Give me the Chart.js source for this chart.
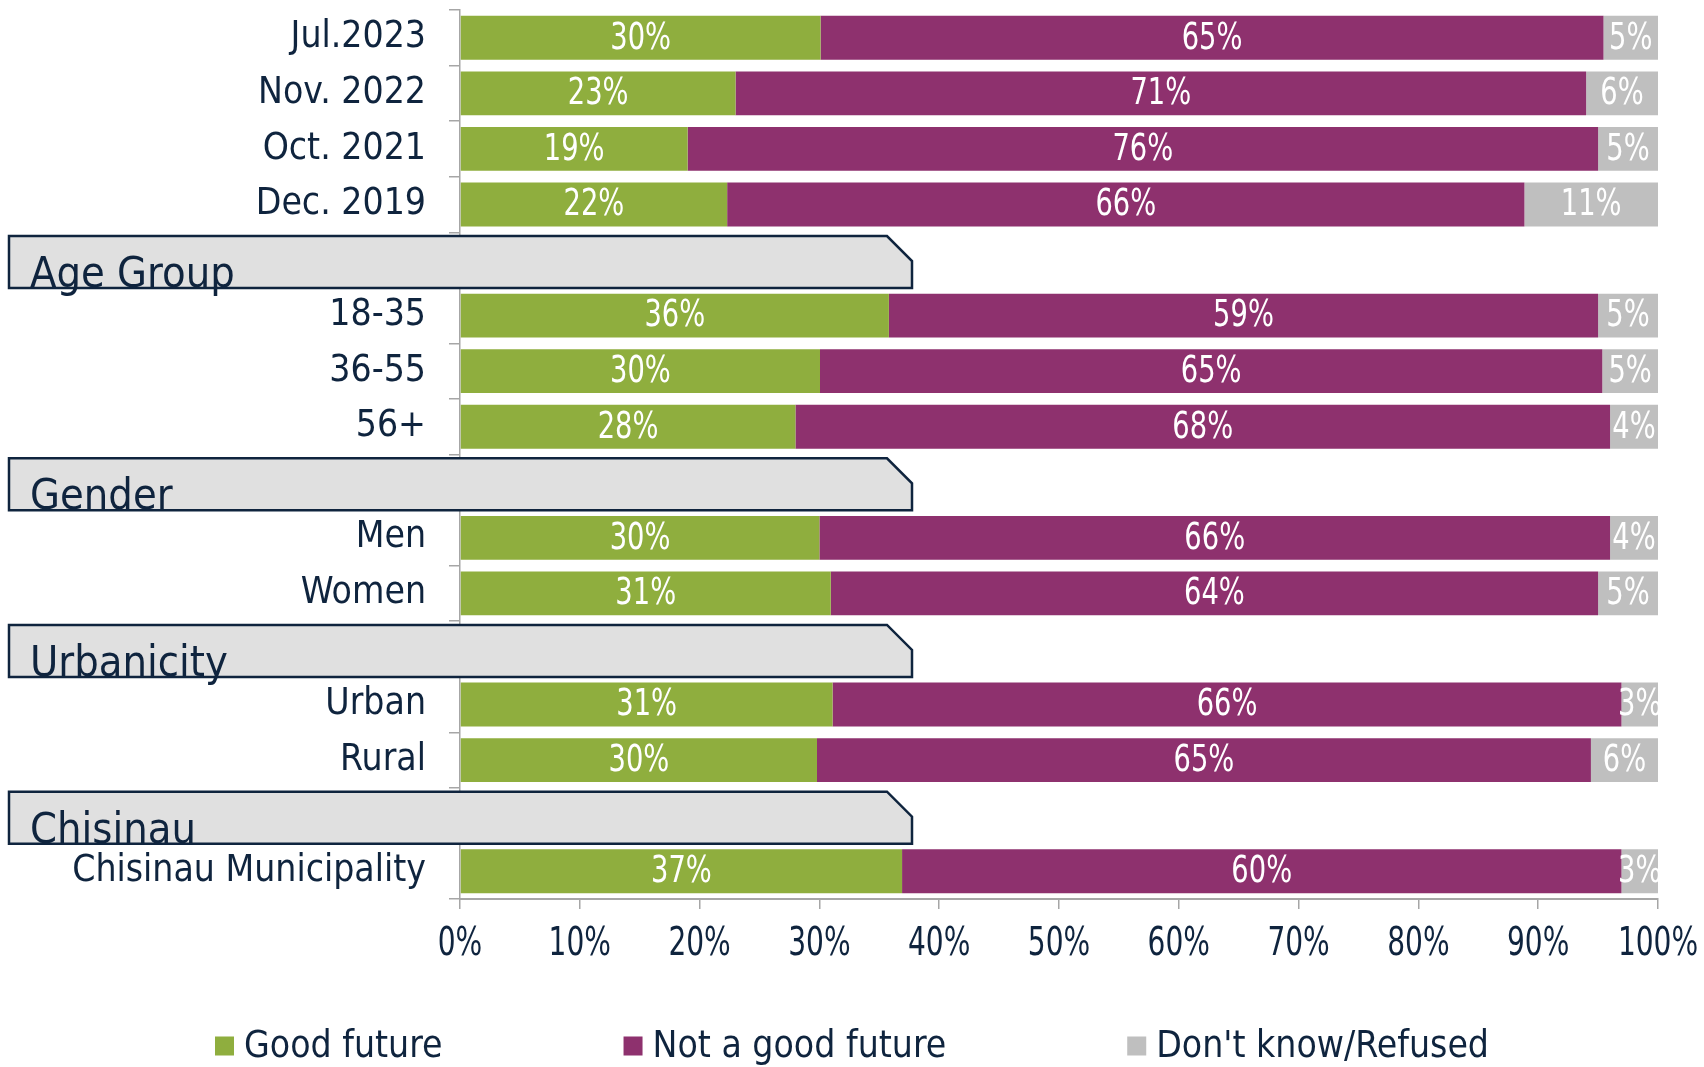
<!DOCTYPE html>
<html>
<head>
<meta charset="utf-8">
<script src="https://cdn.jsdelivr.net/npm/chart.js@4/dist/chart.umd.min.js"></script>
<style>
html,body{margin:0;padding:0;background:#ffffff;}
#wrap{width:1704px;height:1067px;position:relative;}
</style>
</head>
<body>
<div id="wrap"><canvas id="c" width="1704" height="1067"></canvas></div>
<script>
// ---- data ----
const categories = ['Jul.2023','Nov. 2022','Oct. 2021','Dec. 2019','','18-35','36-55','56+','','Men','Women','','Urban','Rural','','Chisinau Municipality'];
const groupHeaders = [null,null,null,null,'Age Group',null,null,null,'Gender',null,null,'Urbanicity',null,null,'Chisinau',null];
const seriesNames = ['Good future','Not a good future',"Don't know/Refused"];
const goodFuture    = [30.1,23.0,19.0,22.3,null,35.8,30.05,28.0,null,30.0,30.95,null,31.1,29.8,null,36.9];
const notGoodFuture = [65.35,71.0,76.0,66.55,null,59.2,65.3,68.0,null,66.0,64.05,null,65.85,64.6,null,60.05];
const dontKnow      = [4.55,6.0,5.0,11.15,null,5.0,4.65,4.0,null,4.0,5.0,null,3.05,5.6,null,3.05];
const goodLabels    = ['30%','23%','19%','22%','','36%','30%','28%','','30%','31%','','31%','30%','','37%'];
const notGoodLabels = ['65%','71%','76%','66%','','59%','65%','68%','','66%','64%','','66%','65%','','60%'];
const dontKnowLabels= ['5%','6%','5%','11%','','5%','5%','4%','','4%','5%','','3%','6%','','3%'];
const xTickValues = [0,10,20,30,40,50,60,70,80,90,100];
const xTickLabels = ['0%','10%','20%','30%','40%','50%','60%','70%','80%','90%','100%'];

// ---- styles ----
const NAVY = '#0F243E';
const AXIS = '#A6A6A6';
const COLORS = ['#8FAE3E','#8E316E','#BFBFBF'];
const FONT_MAIN = '"DejaVu Sans Condensed","DejaVu Sans",sans-serif';
const NARROW = 0.8;

function drawNarrowText(ctx, txt, x, y, squeeze) {
  ctx.save();
  ctx.translate(x, y);
  ctx.scale(squeeze, 1);
  ctx.fillText(txt, 0, 0);
  ctx.restore();
}

const valueLabelPlugin = {
  id: 'valueLabels',
  afterDatasetsDraw(chart) {
    const ctx = chart.ctx;
    const area = chart.chartArea;
    ctx.save();
    ctx.beginPath();
    ctx.rect(area.left, area.top, area.right - area.left, area.bottom - area.top);
    ctx.clip();
    ctx.fillStyle = '#FFFFFF';
    ctx.font = '38px ' + FONT_MAIN;
    ctx.textAlign = 'center';
    ctx.textBaseline = 'middle';
    chart.data.datasets.forEach((ds, di) => {
      const meta = chart.getDatasetMeta(di);
      meta.data.forEach((bar, i) => {
        const v = ds.data[i];
        if (v === null || v === undefined) return;
        const props = bar.getProps(['x','y','base'], true);
        const cx = (props.x + props.base) / 2;
        drawNarrowText(ctx, ds.valueLabels[i], cx, props.y + 1, NARROW);
      });
    });
    ctx.restore();
  }
};

const xLabelPlugin = {
  id: 'xLabels',
  afterDraw(chart) {
    const ctx = chart.ctx;
    const xs = chart.scales.x;
    ctx.save();
    ctx.fillStyle = NAVY;
    ctx.font = '39px ' + FONT_MAIN;
    ctx.textAlign = 'center';
    ctx.textBaseline = 'middle';
    xTickValues.forEach((v, i) => {
      drawNarrowText(ctx, xTickLabels[i], xs.getPixelForValue(v), xs.top + 46, NARROW);
    });
    ctx.restore();
  }
};

const headerPlugin = {
  id: 'groupHeaders',
  afterDraw(chart) {
    const ctx = chart.ctx;
    const yScale = chart.scales.y;
    ctx.save();
    groupHeaders.forEach((h, i) => {
      if (!h) return;
      const yc = yScale.getPixelForValue(i) + 2;
      const top = yc - 26, bottom = yc + 26;
      const left = 9, right = 912, cut = 25;
      ctx.beginPath();
      ctx.moveTo(left, top);
      ctx.lineTo(right - cut, top);
      ctx.lineTo(right, top + cut);
      ctx.lineTo(right, bottom);
      ctx.lineTo(left, bottom);
      ctx.closePath();
      ctx.fillStyle = '#E0E0E0';
      ctx.fill();
      ctx.lineWidth = 2.5;
      ctx.strokeStyle = NAVY;
      ctx.stroke();
      ctx.fillStyle = NAVY;
      ctx.font = '43px ' + FONT_MAIN;
      ctx.textAlign = 'left';
      ctx.textBaseline = 'alphabetic';
      ctx.fillText(h, 30, bottom - 1);
    });
    ctx.restore();
  }
};

const legendPlugin = {
  id: 'bottomLegend',
  afterDraw(chart) {
    const ctx = chart.ctx;
    ctx.save();
    ctx.font = '37px ' + FONT_MAIN;
    ctx.textBaseline = 'middle';
    ctx.textAlign = 'left';
    const box = 19, gapText = 10, gapItem = 181;
    const widths = seriesNames.map(n => box + gapText + ctx.measureText(n).width);
    const total = widths.reduce((a, b) => a + b, 0) + gapItem * (seriesNames.length - 1);
    let x = chart.width / 2 - total / 2;
    const y = 1046;
    seriesNames.forEach((n, i) => {
      ctx.fillStyle = COLORS[i];
      ctx.fillRect(x, y - box / 2, box, box);
      ctx.fillStyle = NAVY;
      ctx.fillText(n, x + box + gapText, y + 1);
      x += widths[i] + gapItem;
    });
    ctx.restore();
  }
};

const mkDataset = (label, data, color, labels) => ({
  label, data, backgroundColor: color, borderWidth: 0,
  barPercentage: 0.79, categoryPercentage: 1.0, valueLabels: labels
});

new Chart(document.getElementById('c'), {
  type: 'bar',
  data: {
    labels: categories,
    datasets: [
      mkDataset(seriesNames[0], goodFuture, COLORS[0], goodLabels),
      mkDataset(seriesNames[1], notGoodFuture, COLORS[1], notGoodLabels),
      mkDataset(seriesNames[2], dontKnow, COLORS[2], dontKnowLabels)
    ]
  },
  options: {
    indexAxis: 'y',
    responsive: false,
    animation: false,
    layout: { padding: { top: 10, right: 46, bottom: 0, left: 0 } },
    plugins: { legend: { display: false }, tooltip: { enabled: false } },
    scales: {
      x: {
        stacked: true,
        min: 0, max: 100,
        afterBuildTicks(scale) { scale.ticks = xTickValues.map(v => ({ value: v })); },
        afterFit(scale) {
          scale.height = 168;
          scale.paddingLeft = 0; scale.paddingRight = 0;
        },
        ticks: { display: false },
        grid: { display: true, drawOnChartArea: false, drawTicks: true, tickLength: 10, color: AXIS, lineWidth: 1.5 },
        border: { display: true, color: AXIS, width: 2 }
      },
      y: {
        stacked: true,
        afterFit(scale) {
          scale.width = 460;
          scale.paddingTop = 0; scale.paddingBottom = 0;
        },
        ticks: {
          color: NAVY,
          font: { family: FONT_MAIN, size: 37 },
          padding: 23,
          autoSkip: false
        },
        grid: { display: true, offset: true, drawOnChartArea: false, drawTicks: true, tickLength: 11, color: AXIS, lineWidth: 1.5 },
        border: { display: true, color: AXIS, width: 1.5 }
      }
    }
  },
  plugins: [valueLabelPlugin, headerPlugin, xLabelPlugin, legendPlugin]
});
</script>
</body>
</html>
